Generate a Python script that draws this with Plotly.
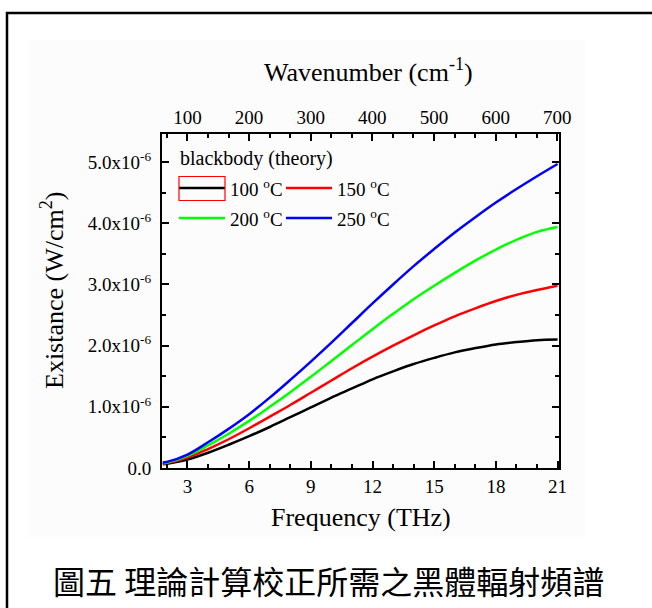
import plotly.graph_objects as go

# ---------------- data ----------------
freq_thz = [1.8, 2, 3, 4, 5, 6, 7, 8, 9, 10, 11, 12, 13, 14, 15, 16, 17, 18, 19, 20, 21]
# existance in units of 1e-6 W/cm^2
t100 = [0.06, 0.07, 0.14, 0.25, 0.38, 0.52, 0.67, 0.83, 0.99, 1.15, 1.30, 1.45, 1.58, 1.70, 1.80, 1.89, 1.96, 2.02, 2.06, 2.09, 2.10]
t150 = [0.07, 0.08, 0.17, 0.31, 0.47, 0.65, 0.84, 1.03, 1.23, 1.43, 1.63, 1.82, 2.00, 2.17, 2.33, 2.48, 2.61, 2.73, 2.83, 2.91, 2.98]
t200 = [0.08, 0.09, 0.20, 0.37, 0.56, 0.77, 1.00, 1.24, 1.49, 1.75, 2.01, 2.27, 2.52, 2.76, 2.98, 3.19, 3.39, 3.57, 3.73, 3.86, 3.94]
t250 = [0.09, 0.10, 0.22, 0.42, 0.64, 0.88, 1.15, 1.44, 1.74, 2.05, 2.37, 2.69, 3.00, 3.30, 3.58, 3.85, 4.10, 4.34, 4.56, 4.77, 4.97]

series_names = ["100 °C", "150 °C", "200 °C", "250 °C"]
series_colors = ["#000000", "#ff0000", "#00ff00", "#0000ff"]
series_values = [t100, t150, t200, t250]

freq_ticks = [3, 6, 9, 12, 15, 18, 21]
wn_ticks = [100, 200, 300, 400, 500, 600, 700]
y_ticks = [0, 1e-6, 2e-6, 3e-6, 4e-6, 5e-6]
y_ticktext = ["0.0"] + [f"{k}.0x10<sup>-6</sup>" for k in range(1, 6)]

THZ_TO_CM = 33.356
x_range = [1.76, 21.07]

# ---------------- layout helpers ----------------
W, H = 652, 608
L, R, T, B = 162, 559, 134, 468   # plot area in pixels


def px(x):
    return (x - L) / (R - L)


def py(y):
    return (B - y) / (B - T)


SERIF = "Liberation Serif, Times New Roman, serif"

fig = go.Figure()
for name, col, vals in zip(series_names, series_colors, series_values):
    fig.add_trace(go.Scatter(
        x=freq_thz, y=[v * 1e-6 for v in vals], mode="lines", name=name,
        line=dict(color=col, width=2.5, shape="spline"), showlegend=False,
    ))

# dummy trace so the top (wavenumber) axis is drawn
fig.add_trace(go.Scatter(x=wn_ticks, y=[None] * len(wn_ticks), xaxis="x2", yaxis="y",
                         mode="lines", showlegend=False, hoverinfo="skip"))

fig.update_layout(
    width=W, height=H,
    margin=dict(l=L, r=W - R, t=T, b=H - B),
    paper_bgcolor="white", plot_bgcolor="rgba(0,0,0,0)",
    font=dict(family=SERIF, color="black"),
    xaxis=dict(
        range=x_range, tickvals=freq_ticks, ticks="inside", ticklen=7, tickwidth=2,
        tickcolor="black", showline=True, linewidth=2, linecolor="black", mirror=True,
        showgrid=False, zeroline=False, tickfont=dict(size=19, family=SERIF),
        minor=dict(dtick=1, tick0=0, ticks="inside", ticklen=4, tickwidth=2, tickcolor="black"),
        ticklabelstandoff=0,
    ),
    xaxis2=dict(
        range=[x_range[0] * THZ_TO_CM, x_range[1] * THZ_TO_CM], overlaying="x", side="top",
        anchor="y", tickvals=wn_ticks, ticks="inside", ticklen=7, tickwidth=2, tickcolor="black",
        showline=False, showgrid=False, zeroline=False, tickfont=dict(size=19, family=SERIF),
        minor=dict(dtick=100 / 3, tick0=0, ticks="inside", ticklen=4, tickwidth=2, tickcolor="black"),
        ticklabelstandoff=5,
    ),
    yaxis=dict(
        range=[0, 5.46e-6], tickvals=y_ticks, ticktext=y_ticktext, ticks="inside", ticklen=7,
        tickwidth=2, tickcolor="black", showline=True, linewidth=2, linecolor="black",
        mirror="ticks", showgrid=False, zeroline=False, tickfont=dict(size=19, family=SERIF),
        minor=dict(dtick=0.5e-6, tick0=0, ticks="inside", ticklen=4, tickwidth=2, tickcolor="black"),
        ticklabelstandoff=5,
    ),
)

shapes = []
# faint background of the pasted chart image
shapes.append(dict(type="rect", xref="paper", yref="paper", x0=px(28), x1=px(585), y0=py(537), y1=py(40),
                   fillcolor="#fcfcfc", line=dict(width=0), layer="below"))
# outer border (left and top edges)
shapes.append(dict(type="path", xref="paper", yref="paper",
                   path=f"M {px(7)} {py(620)} L {px(7)} {py(13)} L {px(670)} {py(13)}",
                   line=dict(color="black", width=2.5)))

annotations = []


def note(x, y, text, size, family=SERIF, **kw):
    d = dict(x=px(x), y=py(y), xref="paper", yref="paper", text=text, showarrow=False,
             xanchor=kw.pop("xanchor", "center"), yanchor="middle",
             font=dict(size=size, family=family, color="black"))
    d.update(kw)
    annotations.append(d)


# legend title
note(178, 158, "blackbody (theory)", 20, xanchor="left")
legend_pos = [(179, 188), (286, 188), (179, 218), (286, 218)]
for (lx, ly), name, col in zip(legend_pos, series_names, series_colors):
    shapes.append(dict(type="line", xref="paper", yref="paper", x0=px(lx), x1=px(lx + 46),
                       y0=py(ly), y1=py(ly), line=dict(color=col, width=2.5)))
    note(lx + 49, ly, name.replace(" °", " <sup>o</sup>"), 19, xanchor="left")
# selection box around first legend sample
shapes.append(dict(type="rect", xref="paper", yref="paper", x0=px(179), x1=px(225), y0=py(200.5), y1=py(176.5),
                   line=dict(color="#ff0000", width=1.2), fillcolor="rgba(0,0,0,0)"))

# axis titles
note(368, 70, "Wavenumber (cm<sup>-1</sup>)", 26)
note(361, 517, "Frequency (THz)", 26)
note(52, 290, "Existance (W/cm<sup>2</sup>)", 26, textangle=-90)
# caption
note(328, 580, "圖五 理論計算校正所需之黑體輻射頻譜", 32, family="Noto Sans CJK TC")

fig.update_layout(shapes=shapes, annotations=annotations)
fig.write_html("out.html")
